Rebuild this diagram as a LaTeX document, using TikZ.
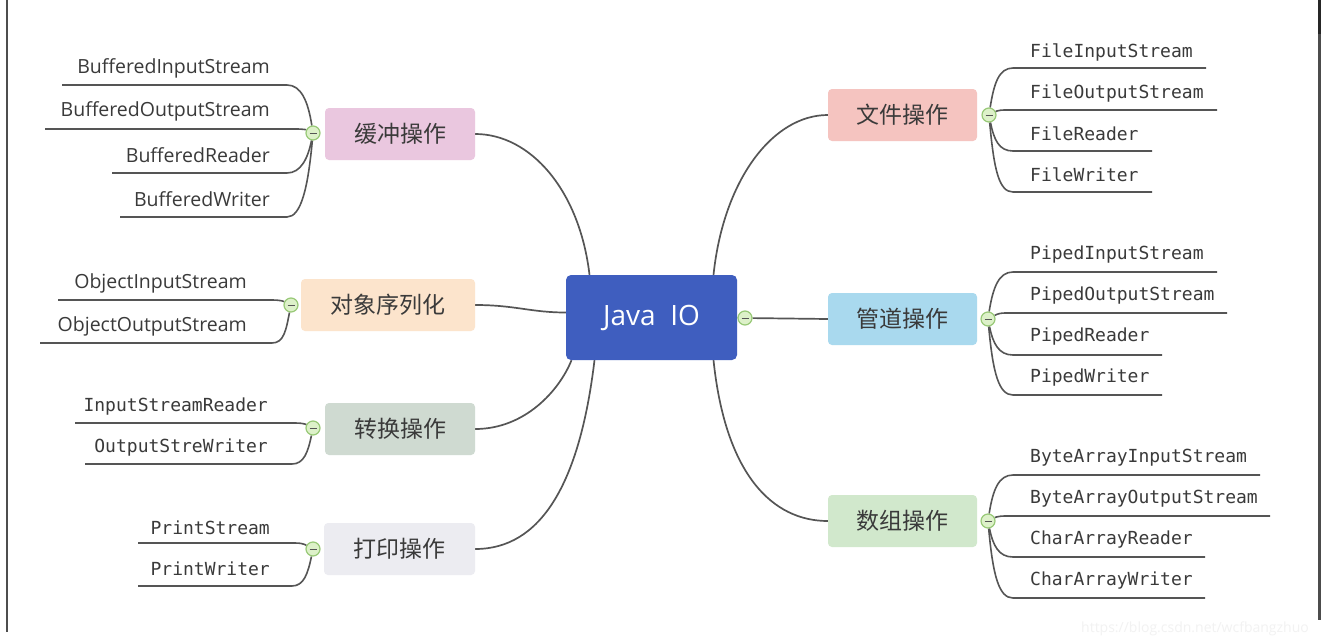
\documentclass[tikz,border=0pt]{standalone}
\usepackage{fontspec}
\newfontfamily\cjk{Noto Sans CJK SC}
\newfontfamily\lsans{Open Sans}
\newfontfamily\lmono{DejaVu Sans Mono}
\usetikzlibrary{backgrounds}

\definecolor{edge}{HTML}{555555}
\definecolor{ink}{HTML}{3A3A3A}
\definecolor{rootblue}{HTML}{3F5EBF}
\definecolor{cbuffer}{HTML}{EAC7DF}
\definecolor{cobject}{HTML}{FCE4CC}
\definecolor{cconvert}{HTML}{CFDAD1}
\definecolor{cprint}{HTML}{ECECF1}
\definecolor{cfile}{HTML}{F5C4C0}
\definecolor{cpipe}{HTML}{A9D9EE}
\definecolor{carray}{HTML}{D1E8CC}
\definecolor{foldfill}{HTML}{DDF1C9}
\definecolor{foldline}{HTML}{98C977}

\tikzset{
  rootbox/.style={fill=rootblue, rounded corners=5pt, minimum width=171pt,
    minimum height=85pt, inner sep=0pt, text=white,
    font=\lsans\fontsize{28}{28}\selectfont},
  topic/.style={rounded corners=4pt, minimum height=52pt, inner sep=0pt,
    text=ink, font=\cjk\fontsize{23}{23}\selectfont},
  leafsans/.style={inner sep=0pt, text=ink, font=\lsans\fontsize{19.5}{19.5}\selectfont},
  leafmono/.style={inner sep=0pt, text=ink, font=\lmono\fontsize{18}{18}\selectfont},
  fold/.style={circle, draw=foldline, fill=foldfill, line width=1.2pt,
    minimum size=14pt, inner sep=0pt,
    path picture={\draw[edge, line width=1pt]
      ([xshift=-3.5pt]path picture bounding box.center) --
      ([xshift=3.5pt]path picture bounding box.center);}},
  branch/.style={draw=edge, line width=1.7pt},
  twig/.style={draw=edge, line width=1.6pt}
}

\begin{document}
\begin{tikzpicture}[x=1pt, y=-1pt]
\useasboundingbox (0,0) rectangle (1322,640);

% frame lines at the page edges
\draw[draw=ink!90, line width=1.5pt] (7,0) -- (7,632);
\draw[draw=black!85, line width=3pt] (1319.5,0) -- (1319.5,34);
\draw[draw=black!70, line width=3pt] (1319.5,34) -- (1319.5,620);

% central topic
\node[rootbox] (root) at (651.5,317.5) {Java\ \ IO};

% main topics
\node[topic, fill=cbuffer,  minimum width=150pt] (tb)  at (400,134) {缓冲操作};
\node[topic, fill=cobject,  minimum width=174pt] (to)  at (388,305) {对象序列化};
\node[topic, fill=cconvert, minimum width=150pt] (tc)  at (400,429) {转换操作};
\node[topic, fill=cprint,   minimum width=151pt] (tp)  at (399.5,549) {打印操作};
\node[topic, fill=cfile,    minimum width=149pt] (tf)  at (902.5,115) {文件操作};
\node[topic, fill=cpipe,    minimum width=149pt] (tpi) at (902.5,319) {管道操作};
\node[topic, fill=carray,   minimum width=149pt] (ta)  at (902.5,521) {数组操作};

% collapse markers
\node[fold] (froot) at (745,318) {};
\node[fold] (fb) at (313,133) {};
\node[fold] (fo) at (291,305) {};
\node[fold] (fc) at (313,428) {};
\node[fold] (fp) at (313,549) {};
\node[fold] (ff) at (989,115) {};
\node[fold] (fpi) at (988,319) {};
\node[fold] (fa) at (988,521) {};

% ---- leaves: buffered streams
\node[leafsans, anchor=east] (bis) at (270,68)  {BufferedInputStream};
\node[leafsans, anchor=east] (bos) at (270,111) {BufferedOutputStream};
\node[leafsans, anchor=east] (brd) at (270,155) {BufferedReader};
\node[leafsans, anchor=east] (bwr) at (270,199) {BufferedWriter};
\coordinate (bisA) at (287,85);  \coordinate (bisB) at (62,85);
\coordinate (bosA) at (296,129); \coordinate (bosB) at (45,129);
\coordinate (brdA) at (287,173); \coordinate (brdB) at (112,173);
\coordinate (bwrA) at (287,217); \coordinate (bwrB) at (120,217);

% ---- leaves: object serialisation
\node[leafsans, anchor=east] (ois) at (247,283) {ObjectInputStream};
\node[leafsans, anchor=east] (oos) at (247,326) {ObjectOutputStream};
\coordinate (oisA) at (272,300); \coordinate (oisB) at (58,300);
\coordinate (oosA) at (272,343); \coordinate (oosB) at (40,343);

% ---- leaves: conversion
\node[leafmono, anchor=east] (isr) at (268,407) {InputStreamReader};
\node[leafmono, anchor=east] (osw) at (268,448) {OutputStreWriter};
\coordinate (isrA) at (295,423); \coordinate (isrB) at (75,423);
\coordinate (oswA) at (292,464); \coordinate (oswB) at (85,464);

% ---- leaves: printing
\node[leafmono, anchor=east] (pst) at (270,528) {PrintStream};
\node[leafmono, anchor=east] (pwr) at (270,569) {PrintWriter};
\coordinate (pstA) at (295,543); \coordinate (pstB) at (138,543);
\coordinate (pwrA) at (292,586); \coordinate (pwrB) at (138,586);

% ---- leaves: files
\node[leafmono, anchor=west] (fis) at (1030,52)  {FileInputStream};
\node[leafmono, anchor=west] (fos) at (1030,93)  {FileOutputStream};
\node[leafmono, anchor=west] (frd) at (1030,134) {FileReader};
\node[leafmono, anchor=west] (fwr) at (1030,175) {FileWriter};
\coordinate (fisA) at (1013,68);  \coordinate (fisB) at (1206,68);
\coordinate (fosA) at (1005,110); \coordinate (fosB) at (1217,110);
\coordinate (frdA) at (1013,151); \coordinate (frdB) at (1152,151);
\coordinate (fwrA) at (1013,192); \coordinate (fwrB) at (1152,192);

% ---- leaves: pipes
\node[leafmono, anchor=west] (pis) at (1030,255) {PipedInputStream};
\node[leafmono, anchor=west] (pos) at (1030,296) {PipedOutputStream};
\node[leafmono, anchor=west] (prd) at (1030,337) {PipedReader};
\node[leafmono, anchor=west] (pwt) at (1030,378) {PipedWriter};
\coordinate (pisA) at (1013,272); \coordinate (pisB) at (1217,272);
\coordinate (posA) at (1005,313); \coordinate (posB) at (1227,313);
\coordinate (prdA) at (1013,355); \coordinate (prdB) at (1162,355);
\coordinate (pwtA) at (1013,395); \coordinate (pwtB) at (1162,395);

% ---- leaves: arrays
\node[leafmono, anchor=west] (bais) at (1030,458) {ByteArrayInputStream};
\node[leafmono, anchor=west] (baos) at (1030,499) {ByteArrayOutputStream};
\node[leafmono, anchor=west] (car)  at (1030,540) {CharArrayReader};
\node[leafmono, anchor=west] (caw)  at (1030,581) {CharArrayWriter};
\coordinate (baisA) at (1013,475); \coordinate (baisB) at (1260,475);
\coordinate (baosA) at (1005,516); \coordinate (baosB) at (1270,516);
\coordinate (carA)  at (1013,557); \coordinate (carB)  at (1205,557);
\coordinate (cawA)  at (1013,598); \coordinate (cawB)  at (1205,598);

% faint address line at the bottom right
\node[anchor=east, inner sep=0pt, text=black!5,
      font=\lsans\fontsize{14}{14}\selectfont] (addr) at (1309,629)
  {https://blog.csdn.net/wcfbangzhuo};

\begin{scope}[on background layer]
  \fill[white] (0,0) rectangle (1322,640);
  % branches from the central topic
  \draw[branch] ([xshift=-62pt]root.north) .. controls +(-10,-85) and +(55,0) .. (tb.east);
  \draw[branch] ([yshift=5pt]root.west) .. controls +(-35,0) and +(40,0) .. (to.east);
  \draw[branch] ([xshift=-80pt]root.south) .. controls +(-12,30) and +(50,0) .. (tc.east);
  \draw[branch] ([xshift=-57pt]root.south) .. controls +(-15,125) and +(65,0) .. (tp.east);
  \draw[branch] ([xshift=62pt]root.north) .. controls +(10,-95) and +(-55,0) .. (tf.west);
  \draw[branch] (root.east) -- (froot) -- (tpi.west);
  \draw[branch] ([xshift=62pt]root.south) .. controls +(12,115) and +(-55,0) .. (ta.west);

  % twigs to the leaves, left side
  \draw[twig] (fb) .. controls +(-5,-32) and +(14,0) .. (bisA) -- (bisB);
  \draw[twig] (fb) .. controls +(-6,-3) and +(8,0) .. (bosA) -- (bosB);
  \draw[twig] (fb) .. controls +(-5,25) and +(14,0) .. (brdA) -- (brdB);
  \draw[twig] (fb) .. controls +(-5,55) and +(14,0) .. (bwrA) -- (bwrB);

  \draw[twig] (fo) .. controls +(-6,-3) and +(10,0) .. (oisA) -- (oisB);
  \draw[twig] (fo) .. controls +(-5,25) and +(12,0) .. (oosA) -- (oosB);

  \draw[twig] (fc) .. controls +(-6,-3) and +(10,0) .. (isrA) -- (isrB);
  \draw[twig] (fc) .. controls +(-5,24) and +(12,0) .. (oswA) -- (oswB);

  \draw[twig] (fp) .. controls +(-6,-3) and +(10,0) .. (pstA) -- (pstB);
  \draw[twig] (fp) .. controls +(-5,24) and +(12,0) .. (pwrA) -- (pwrB);

  % twigs to the leaves, right side
  \draw[twig] (ff) .. controls +(5,-32) and +(-14,0) .. (fisA) -- (fisB);
  \draw[twig] (ff) .. controls +(6,-3) and +(-8,0) .. (fosA) -- (fosB);
  \draw[twig] (ff) .. controls +(5,25) and +(-14,0) .. (frdA) -- (frdB);
  \draw[twig] (ff) .. controls +(5,55) and +(-14,0) .. (fwrA) -- (fwrB);

  \draw[twig] (fpi) .. controls +(5,-32) and +(-14,0) .. (pisA) -- (pisB);
  \draw[twig] (fpi) .. controls +(6,-3) and +(-8,0) .. (posA) -- (posB);
  \draw[twig] (fpi) .. controls +(5,25) and +(-14,0) .. (prdA) -- (prdB);
  \draw[twig] (fpi) .. controls +(5,55) and +(-14,0) .. (pwtA) -- (pwtB);

  \draw[twig] (fa) .. controls +(5,-32) and +(-14,0) .. (baisA) -- (baisB);
  \draw[twig] (fa) .. controls +(6,-3) and +(-8,0) .. (baosA) -- (baosB);
  \draw[twig] (fa) .. controls +(5,25) and +(-14,0) .. (carA) -- (carB);
  \draw[twig] (fa) .. controls +(5,55) and +(-14,0) .. (cawA) -- (cawB);
\end{scope}
\end{tikzpicture}
\end{document}
